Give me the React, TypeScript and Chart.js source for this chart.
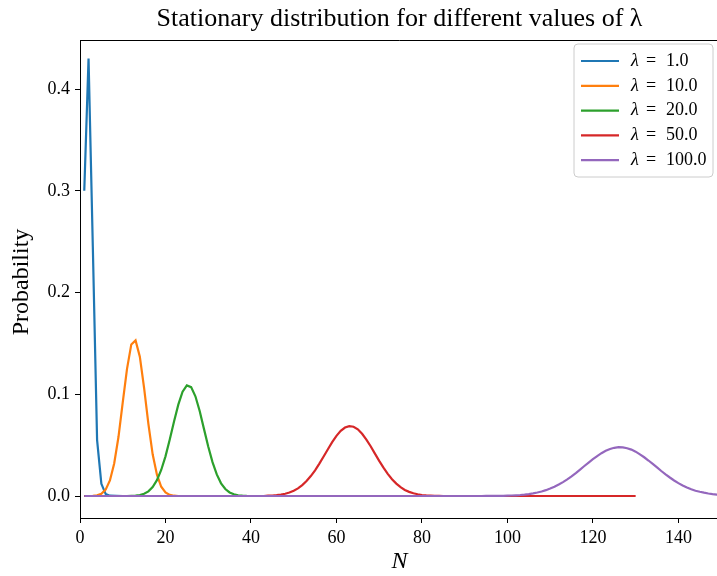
import React, { useEffect, useRef } from "react";
import { Chart, registerables } from "chart.js";

Chart.register(...registerables);

// ---- data ----
const lambdaLabels = ["1.0", "10.0", "20.0", "50.0", "100.0"];
const seriesColors = ["#1f77b4", "#ff7f0e", "#2ca02c", "#d62728", "#9467bd"];

const blueN = [1, 2, 3, 4, 5, 6, 7, 10];
const blueP = [0.3, 0.43, 0.245, 0.055, 0.012, 0.002, 0.0003, 0];

const orangeN = [1, 2, 3, 4, 5, 6, 7, 8, 9, 10, 11, 12, 13, 14, 15, 16, 17, 18, 19, 20, 21, 22, 23, 40];
const orangeP = [0, 0, 0.0002, 0.0007, 0.0023, 0.0063, 0.0153, 0.032, 0.058, 0.092, 0.125, 0.149, 0.153, 0.137, 0.106, 0.071, 0.041, 0.021, 0.0091, 0.0035, 0.0011, 0.0003, 0, 0];

const greenN = [1, 11, 12, 13, 14, 15, 16, 17, 18, 19, 20, 21, 22, 23, 24, 25, 26, 27, 28, 29, 30, 31, 32, 33, 34, 35, 36, 37, 38, 39, 40, 70];
const greenP = [0, 0, 0.0002, 0.0004, 0.001, 0.0023, 0.0046, 0.0089, 0.0156, 0.0256, 0.039, 0.0555, 0.0733, 0.0898, 0.1025, 0.1087, 0.107, 0.098, 0.0835, 0.066, 0.0487, 0.0333, 0.0212, 0.0125, 0.0069, 0.0035, 0.0017, 0.0007, 0.0003, 0.0001, 0, 0];

const redN = [1, 43, 44, 45, 46, 47, 48, 49, 50, 51, 52, 53, 54, 55, 56, 57, 58, 59, 60, 61, 62, 63, 64, 65, 66, 67, 68, 69, 70, 71, 72, 73, 74, 75, 76, 77, 78, 79, 80, 81, 82, 83, 84, 85, 130];
const redP = [0, 0, 0.0003, 0.0005, 0.00085, 0.0014, 0.0022, 0.0034, 0.0052, 0.0075, 0.0107, 0.0147, 0.0196, 0.0253, 0.0319, 0.0389, 0.046, 0.053, 0.0591, 0.064, 0.0673, 0.0687, 0.0681, 0.0656, 0.0612, 0.0555, 0.0489, 0.0417, 0.0346, 0.0279, 0.0218, 0.0165, 0.0122, 0.0087, 0.006, 0.0041, 0.0027, 0.0017, 0.001, 0.0006, 0.0004, 0.0002, 0.0001, 0, 0];

const purpleN = [1, 94, 95, 96, 97, 98, 99, 100, 101, 102, 103, 104, 105, 106, 107, 108, 109, 110, 111, 112, 113, 114, 115, 116, 117, 118, 119, 120, 121, 122, 123, 124, 125, 126, 127, 128, 129, 130, 131, 132, 133, 134, 135, 136, 137, 138, 139, 140, 141, 142, 143, 144, 145, 146, 147, 148, 149, 150, 151, 152, 153, 154, 155];
const purpleP = [0, 0, 0.00005, 0.00007, 0.0001, 0.00016, 0.00024, 0.00036, 0.00051, 0.00073, 0.00102, 0.00141, 0.00193, 0.00259, 0.00343, 0.00447, 0.00576, 0.0073, 0.0091, 0.0113, 0.0137, 0.0164, 0.0194, 0.0226, 0.026, 0.0295, 0.0329, 0.0362, 0.0393, 0.0421, 0.0444, 0.0462, 0.0474, 0.048, 0.0478, 0.047, 0.0456, 0.0436, 0.041, 0.0381, 0.0349, 0.0315, 0.0281, 0.0246, 0.0213, 0.0182, 0.0153, 0.0127, 0.0104, 0.0084, 0.0066, 0.0052, 0.0042, 0.0033, 0.0025, 0.0019, 0.0014, 0.001, 0.0007, 0.0005, 0.0003, 0.0002, 0.0001];

const xTicks = [0, 20, 40, 60, 80, 100, 120, 140];
const yTicks = [0.0, 0.1, 0.2, 0.3, 0.4];

const titleText = "Stationary distribution for different values of λ";
const yLabel = "Probability";
const xLabel = "N";

const SERIF = "'Liberation Serif', 'DejaVu Serif', serif";

const seriesN = [blueN, orangeN, greenN, redN, purpleN];
const seriesP = [blueP, orangeP, greenP, redP, purpleP];

const textPlugin = {
  id: "textPlugin",
  afterDraw(chart: any) {
    const { ctx, chartArea } = chart;
    const { left, right, top, bottom } = chartArea;
    ctx.save();
    // top and right spines
    ctx.strokeStyle = "#000";
    ctx.lineWidth = 1;
    ctx.beginPath();
    ctx.moveTo(left, top + 0.5);
    ctx.lineTo(right - 0.5, top + 0.5);
    ctx.lineTo(right - 0.5, bottom);
    ctx.stroke();

    // title
    ctx.fillStyle = "#000";
    ctx.font = `26px ${SERIF}`;
    ctx.textAlign = "center";
    ctx.textBaseline = "alphabetic";
    ctx.fillText(titleText, (left + right) / 2, top - 14);

    // x label
    ctx.font = `italic 24px ${SERIF}`;
    ctx.textBaseline = "middle";
    ctx.fillText(xLabel, (left + right) / 2, 562);

    // y label
    ctx.save();
    ctx.translate(22, (top + bottom) / 2 + 3);
    ctx.rotate(-Math.PI / 2);
    ctx.font = `24px ${SERIF}`;
    ctx.textBaseline = "middle";
    ctx.fillText(yLabel, 0, 0);
    ctx.restore();

    // legend
    const bx = 574, by = 44, bw = 139, bh = 133, r = 4;
    ctx.beginPath();
    ctx.moveTo(bx + r, by);
    ctx.lineTo(bx + bw - r, by);
    ctx.quadraticCurveTo(bx + bw, by, bx + bw, by + r);
    ctx.lineTo(bx + bw, by + bh - r);
    ctx.quadraticCurveTo(bx + bw, by + bh, bx + bw - r, by + bh);
    ctx.lineTo(bx + r, by + bh);
    ctx.quadraticCurveTo(bx, by + bh, bx, by + bh - r);
    ctx.lineTo(bx, by + r);
    ctx.quadraticCurveTo(bx, by, bx + r, by);
    ctx.closePath();
    ctx.fillStyle = "rgba(255,255,255,0.8)";
    ctx.fill();
    ctx.strokeStyle = "#cccccc";
    ctx.lineWidth = 1;
    ctx.stroke();

    lambdaLabels.forEach((lab, i) => {
      const y = 61 + i * 24.8;
      ctx.strokeStyle = seriesColors[i];
      ctx.lineWidth = 2.2;
      ctx.beginPath();
      ctx.moveTo(581, y);
      ctx.lineTo(619, y);
      ctx.stroke();
      ctx.fillStyle = "#000";
      ctx.textAlign = "left";
      ctx.textBaseline = "middle";
      ctx.font = `italic 18px ${SERIF}`;
      ctx.fillText("λ", 631, y);
      ctx.font = `18px ${SERIF}`;
      ctx.fillText("=", 646, y);
      ctx.fillText(lab, 666, y);
    });
    ctx.restore();
  },
};

export default function App() {
  const ref = useRef<HTMLCanvasElement | null>(null);
  useEffect(() => {
    if (!ref.current) return;
    const datasets = seriesN.map((ns, i) => ({
      label: "λ = " + lambdaLabels[i],
      data: ns.map((n, j) => ({ x: n, y: seriesP[i][j] })),
      borderColor: seriesColors[i],
      backgroundColor: seriesColors[i],
      borderWidth: 2.2,
      pointRadius: 0,
      tension: 0,
      fill: false,
      order: seriesN.length - 1 - i,
    }));
    const chart = new Chart(ref.current, {
      type: "line",
      data: { datasets },
      plugins: [textPlugin],
      options: {
        animation: false,
        responsive: false,
        devicePixelRatio: 1,
        layout: { padding: { left: 0, right: 1, top: 40, bottom: 0 } },
        plugins: { legend: { display: false }, tooltip: { enabled: false }, title: { display: false } },
        scales: {
          x: {
            type: "linear",
            min: 0,
            max: 149.5,
            afterBuildTicks: (s: any) => {
              s.ticks = xTicks.map((v) => ({ value: v }));
            },
            afterFit: (s: any) => {
              s.height = 58;
            },
            grid: { display: true, drawOnChartArea: false, drawTicks: true, tickLength: 5, color: "#000", lineWidth: 1 },
            border: { display: true, color: "#000", width: 1 },
            ticks: {
              autoSkip: false,
              maxRotation: 0,
              padding: 4,
              color: "#000",
              font: { family: SERIF, size: 18 },
              callback: (v: any) => String(v),
            },
          },
          y: {
            type: "linear",
            min: -0.0216,
            max: 0.4482,
            afterBuildTicks: (s: any) => {
              s.ticks = yTicks.map((v) => ({ value: v }));
            },
            afterFit: (s: any) => {
              s.width = 80;
            },
            grid: { display: true, drawOnChartArea: false, drawTicks: true, tickLength: 5, color: "#000", lineWidth: 1 },
            border: { display: true, color: "#000", width: 1 },
            ticks: {
              autoSkip: false,
              padding: 5,
              color: "#000",
              font: { family: SERIF, size: 18 },
              callback: (v: any) => Number(v).toFixed(1),
            },
          },
        },
      },
    });
    return () => chart.destroy();
  }, []);
  return (
    <div
      style={{
        position: "fixed",
        left: 0,
        top: 0,
        width: 717,
        height: 576,
        overflow: "hidden",
        background: "#fff",
      }}
    >
      <canvas ref={ref} width={720} height={576} style={{ display: "block" }} />
    </div>
  );
}
